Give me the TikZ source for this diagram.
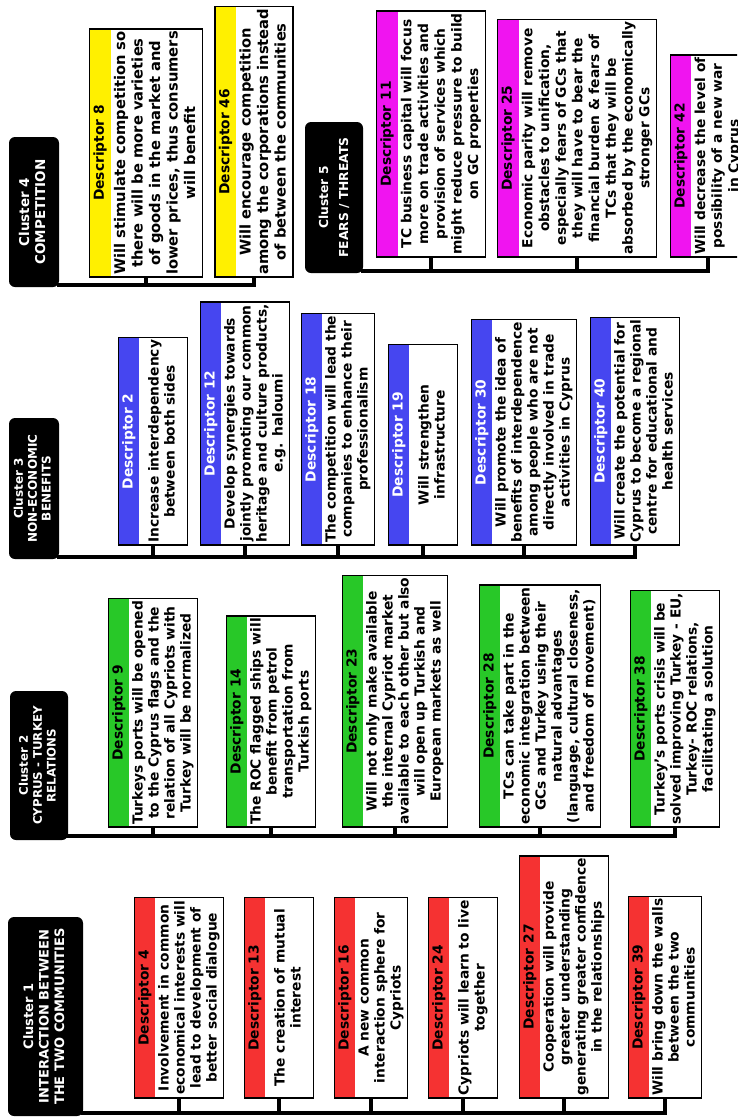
\documentclass[tikz,border=0pt]{standalone}
\usepackage{fontspec}
\usepackage{graphicx}
\setmainfont{DejaVu Sans}
\usetikzlibrary{calc,fit}
\definecolor{cred}{RGB}{245,50,50}
\definecolor{cgreen}{RGB}{40,200,40}
\definecolor{cblue}{RGB}{70,70,240}
\definecolor{cyellow}{RGB}{255,240,0}
\definecolor{cmag}{RGB}{240,20,240}
\newcommand{\dtext}[1]{\rotatebox{90}{\begin{tabular}{@{}c@{}}#1\end{tabular}}}
\newcommand{\htext}[3]{\rotatebox{90}{\fontsize{#1}{#2}\selectfont\bfseries\begin{tabular}{@{}c@{}}#3\end{tabular}}}
\tikzset{
  dbody/.style={inner sep=2pt, minimum width=48pt, minimum height=200pt, anchor=south,
    font=\bfseries\fontsize{13.8}{16}\selectfont},
  bigbody/.style={font=\bfseries\fontsize{14.7}{17.5}\selectfont},
  tallbody/.style={font=\bfseries\fontsize{13.8}{16.7}\selectfont},
  dtitle/.style={inner sep=0pt, font=\bfseries\fontsize{13.8}{16}\selectfont},
  dframe/.style={draw=black, line width=1.3pt, inner sep=0pt},
  hdr/.style={fill=black, rounded corners=6pt, text=white, inner sep=0pt},
  bus/.style={line width=4pt, line cap=rect},
  stub/.style={line width=3.5pt},
}
\newcommand{\mkdesc}[9]{%
  \node[dbody,#9] (#1b) at (#2+10.5,#3) {\dtext{#7}};
  \coordinate (#1c) at ($(#1b.south west)+(-21,0)$);
  \fill[#4] (#1c) rectangle (#1b.north west);
  \node[dtitle, text=#5] (#1t) at ($(#1b.west)+(-10.5,0)$) {\rotatebox{90}{#6}};
  \node[dframe, fit=(#1c)(#1b)] (#1) {};
  \draw[stub] (#1.south) -- (#1.south |- 0,#8);
}
\begin{document}
\begin{tikzpicture}[x=1pt,y=-1pt]
\useasboundingbox (0,0) rectangle (737,1117);
\clip (0,0) rectangle (737,1117);
\fill[white] (0,0) rectangle (737,1117);

% ---------- Cluster headers ----------
\node[hdr, minimum width=75pt, minimum height=199pt] (c1) at (45.5,1016.5)
  {\htext{13}{15.5}{Cluster 1\\INTERACTION BETWEEN\\THE TWO COMMUNITIES}};
\node[hdr, minimum width=58pt, minimum height=149pt] (c2) at (39,765.5)
  {\htext{11.8}{13.8}{Cluster 2\\CYPRUS - TURKEY\\RELATIONS}};
\node[hdr, minimum width=50pt, minimum height=141pt] (c3) at (34,488.5)
  {\htext{12}{13.8}{Cluster 3\\NON-ECONOMIC\\BENEFITS}};
\node[hdr, minimum width=50pt, minimum height=150pt] (c4) at (34,212)
  {\htext{13.5}{16}{Cluster 4\\COMPETITION}};
\node[hdr, minimum width=58pt, minimum height=151pt] (c5) at (334,197.5)
  {\htext{12.3}{20}{Cluster 5\\FEARS / THREATS}};

% ---------- Cluster 1 ----------
\mkdesc{d4}{179}{1098}{cred}{black}{Descriptor 4}{Involvement in common\\economical interests will\\lead to development of\\better social dialogue}{1113}{}
\mkdesc{d13}{279}{1098}{cred}{black}{Descriptor 13}{The creation of mutual\\interest}{1113}{}
\mkdesc{d16}{371}{1098}{cred}{black}{Descriptor 16}{A new common\\interaction sphere for\\Cypriots}{1113}{}
\mkdesc{d24}{463}{1098}{cred}{black}{Descriptor 24}{Cypriots will learn to live\\together}{1113}{}
\mkdesc{d27}{564}{1098}{cred}{black}{Descriptor 27}{Cooperation will provide\\greater understanding\\generating greater confidence\\in the relationships}{1113}{}
\mkdesc{d39}{665}{1098}{cred}{black}{Descriptor 39}{Will bring down the walls\\between the two\\communities}{1113}{}
\draw[bus] (c1.east |- 0,1113) -- (d39.south |- 0,1113);

% ---------- Cluster 2 ----------
\mkdesc{d9}{153}{827}{cgreen}{black}{Descriptor 9}{Turkeys ports will be opened\\to the Cyprus flags and the\\relation of all Cypriots with\\Turkey will be normalized}{836}{}
\mkdesc{d14}{271}{827}{cgreen}{black}{Descriptor 14}{The ROC flagged ships will\\benefit from petrol\\transportation from\\Turkish ports}{836}{}
\mkdesc{d23}{395}{827}{cgreen}{black}{Descriptor 23}{Will not only make available\\the internal Cypriot market\\available to each other but also\\will open up Turkish and\\European markets as well}{836}{}
\mkdesc{d28}{540}{827}{cgreen}{black}{Descriptor 28}{TCs can take part in the\\economic integration between\\GCs and Turkey using their\\natural advantages\\(language, cultural closeness,\\and freedom of movement)}{836}{}
\mkdesc{d38}{675}{827}{cgreen}{black}{Descriptor 38}{Turkey's ports crisis will be\\solved improving Turkey - EU,\\Turkey- ROC relations,\\facilitating a solution}{836}{}
\draw[bus] (c2.east |- 0,836) -- (d38.south |- 0,836);

% ---------- Cluster 3 ----------
\mkdesc{d2}{153}{545}{cblue}{white}{Descriptor 2}{Increase interdependency\\between both sides}{557}{}
\mkdesc{d12}{245}{545}{cblue}{white}{Descriptor 12}{Develop synergies towards\\jointly promoting our common\\heritage and culture products,\\e.g. haloumi}{557}{}
\mkdesc{d18}{338}{545}{cblue}{white}{Descriptor 18}{The competition will lead the\\companies to enhance their\\professionalism}{557}{}
\mkdesc{d19}{423}{545}{cblue}{white}{Descriptor 19}{Will strengthen\\infrastructure}{557}{}
\mkdesc{d30}{524}{545}{cblue}{white}{Descriptor 30}{Will promote the idea of\\benefits of interdependence\\among people who are not\\directly involved in trade\\activities in Cyprus}{557}{}
\mkdesc{d40}{635}{545}{cblue}{white}{Descriptor 40}{Will create the potential for\\Cyprus to become a regional\\centre for educational and\\health services}{557}{}
\draw[bus] (c3.east |- 0,557) -- (d40.south |- 0,557);

% ---------- Cluster 4 ----------
\mkdesc{d8}{146}{277}{cyellow}{black}{Descriptor 8}{Will stimulate competition so\\there will be more varieties\\of goods in the market and\\lower prices, thus consumers\\will benefit}{285}{bigbody}
\mkdesc{d46}{254}{277}{cyellow}{black}{Descriptor 46}{Will encourage competition\\among the corporations instead\\of between the communities}{285}{bigbody}
\draw[bus] (c4.east |- 0,285) -- (d46.south |- 0,285);

% ---------- Cluster 5 ----------
\mkdesc{d11}{431}{257}{cmag}{black}{Descriptor 11}{TC business capital will focus\\more on trade activities and\\provision of services which\\might reduce pressure to build\\on GC properties}{271}{tallbody}
\mkdesc{d25}{577}{257}{cmag}{black}{Descriptor 25}{Economic parity will remove\\obstacles to unification,\\especially fears of GCs that\\they will have to bear the\\financial burden \& fears of\\TCs that they will be\\absorbed by the economically\\stronger GCs}{271}{tallbody}
\mkdesc{d42}{708}{257}{cmag}{black}{Descriptor 42}{Will decrease the level of\\possibility of a new war\\in Cyprus}{271}{tallbody}
\draw[bus] (c5.east |- 0,271) -- (d42.south |- 0,271);
\end{tikzpicture}
\end{document}
